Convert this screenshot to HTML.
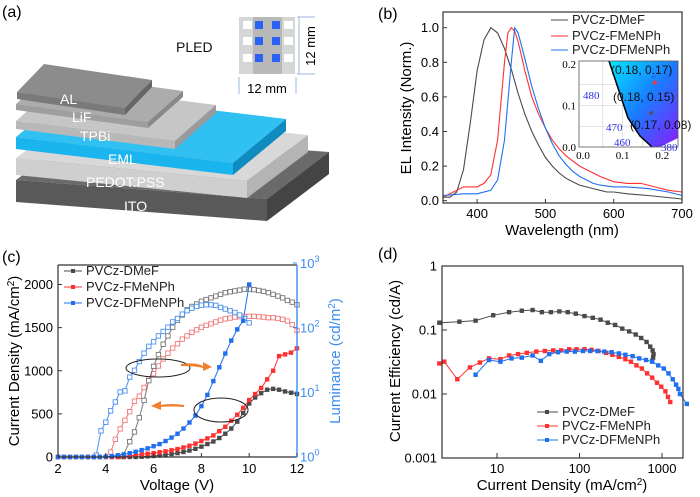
<!DOCTYPE html>
<html><head><meta charset="utf-8">
<style>
html,body{margin:0;padding:0;background:#fff;}
svg{display:block;font-family:"Liberation Sans",sans-serif;}
</style></head>
<body>
<svg id="fig" width="700" height="497" viewBox="0 0 700 497">
<defs>
<linearGradient id="cie" x1="0" y1="0" x2="1" y2="1">
<stop offset="0" stop-color="#00e8ff"/><stop offset="0.5" stop-color="#1a7bff"/><stop offset="1" stop-color="#8a1cff"/>
</linearGradient>
</defs>
<text x="2" y="17" font-size="16">(a)</text>
<text x="378" y="19" font-size="16">(b)</text>
<text x="2" y="262" font-size="16">(c)</text>
<text x="378" y="259" font-size="16">(d)</text>
<g id="pa"></g>
<g id="pb"></g>
<g id="pc"></g>
<g id="pd"></g>
</svg>
<script>
// ---------- Data: panel b (EL spectra) ----------
const wlDMeF=[350,360,370,380,390,400,410,420,430,440,450,460,470,480,490,500,510,520,530,540,550,560,570,580,590,600,620,650,700];
const elDMeF=[0.02,0.02,0.05,0.18,0.45,0.75,0.93,1.0,0.97,0.88,0.76,0.62,0.5,0.4,0.32,0.25,0.2,0.16,0.13,0.11,0.09,0.08,0.07,0.06,0.05,0.05,0.04,0.03,0.01];
const wlFMeNPh=[350,360,380,400,410,420,430,440,445,450,455,460,470,480,490,500,510,520,530,540,550,560,570,580,600,620,640,660,680,700];
const elFMeNPh=[0.02,0.04,0.08,0.08,0.1,0.15,0.35,0.8,0.97,1.0,0.98,0.92,0.75,0.6,0.5,0.42,0.35,0.3,0.26,0.23,0.2,0.18,0.16,0.14,0.11,0.1,0.1,0.08,0.06,0.05];
const wlDFMeNPh=[350,380,400,420,430,440,450,455,460,470,480,490,500,510,520,530,540,550,560,570,580,600,620,650,680,700];
const elDFMeNPh=[0.03,0.04,0.04,0.06,0.12,0.35,0.8,1.0,0.97,0.82,0.66,0.53,0.42,0.33,0.26,0.21,0.17,0.14,0.12,0.1,0.09,0.08,0.08,0.07,0.05,0.03];
const cieX=[0.178,0.182,0.172];
const cieY=[0.17,0.155,0.082];
const bXTicks=[400,500,600,700];
const bYTicks=[0,0.2,0.4,0.6,0.8,1.0];
// ---------- Data: panel c (J-V-L) ----------
const vJ=[2,2.25,2.5,2.75,3,3.25,3.5,3.75,4,4.25,4.5,4.75,5,5.25,5.5,5.75,6,6.25,6.5,6.75,7,7.25,7.5,7.75,8,8.25,8.5,8.75,9,9.25,9.5,9.75,10,10.25,10.5,10.75,11,11.25,11.5,11.75,12];
const jDMeF=[0,0,0,0,0,0,0,0,0,0,0,0,0,0,3,8,12,18,25,35,45,58,75,95,120,150,180,220,270,330,410,510,620,690,740,780,790,780,760,745,730];
const jFMeNPh=[0,0,0,0,0,0,0,0,0,0,0,8,15,22,30,38,45,55,65,78,92,110,130,155,185,215,250,300,350,420,490,570,660,730,800,900,1000,1170,1190,1210,1260];
const jDFMeNPh=[0,0,0,0,0,0,0,0,5,10,20,30,45,60,80,100,125,150,185,225,270,330,400,480,590,720,880,1040,1200,1350,1480,1580,2000];
const vL_DMeF=[4.7,5,5.2,5.4,5.6,5.8,6,6.2,6.4,6.6,6.8,7,7.2,7.4,7.6,7.8,8,8.2,8.4,8.6,8.8,9,9.2,9.4,9.6,9.8,10,10.2,10.4,10.6,10.8,11,11.2,11.4,11.6,11.8,12];
const lDMeF=[1.0,1.7,2.4,4.0,7.4,15,25,38,55,74,101,129,156,188,212,232,255,271,288,307,326,347,358,369,380,393,393,386,375,363,347,326,307,288,263,247,225];
const vL_FMeNPh=[4.2,4.4,4.6,4.8,5,5.2,5.4,5.6,5.8,6,6.2,6.4,6.6,6.8,7,7.2,7.4,7.6,7.8,8,8.2,8.4,8.6,8.8,9,9.2,9.4,9.6,9.8,10,10.2,10.4,10.6,10.8,11,11.2,11.4,11.6,11.8,12];
const lFMeNPh=[1.17,1.85,2.68,3.64,4.95,7.2,8.6,11.7,15.9,19.2,25.3,32.5,40,48,56,66,74,84,92,101,108,114,122,130,136,140,145,147,149,149,149,147,145,142,142,138,134,126,111,90];
const vL_DFMeNPh=[3.6,3.8,4,4.2,4.4,4.6,4.8,5,5.2,5.4,5.6,5.8,6,6.2,6.4,6.6,6.8,7,7.2,7.4,7.6,7.8,8,8.2,8.4,8.6,8.8,9,9.2,9.4,9.6,9.8,10];
const lDFMeNPh=[1.05,2.5,3.4,5.1,7.0,10,10.4,17,21.7,29.6,40,51,60,74,87,101,122,138,161,182,199,212,222,225,225,220,205,193,182,171,156,138,118];
const cXTicks=[2,4,6,8,10,12];
const cYTicks=[0,500,1000,1500,2000];
const cLTicks=[0,1,2,3];
// ---------- Data: panel d (efficiency) ----------
const dJ_DMeF=[2,3.5,5.5,9,14,20,27,35,45,57,72,90,115,145,180,220,270,330,400,480,560,650,720,770,790,780,760];
const ceDMeF=[0.13,0.135,0.14,0.17,0.19,0.2,0.205,0.19,0.19,0.195,0.19,0.18,0.165,0.155,0.145,0.13,0.12,0.105,0.095,0.085,0.075,0.065,0.055,0.048,0.042,0.037,0.033];
const dJ_FMeNPh=[2,2.3,3.3,4.7,6.2,8,11,14,18,23,30,38,48,60,75,92,115,140,170,210,250,300,360,420,490,570,660,760,870,980,1100,1180,1260];
const ceFMeNPh=[0.03,0.032,0.017,0.026,0.031,0.036,0.035,0.04,0.042,0.044,0.046,0.047,0.048,0.048,0.05,0.05,0.05,0.049,0.047,0.044,0.041,0.038,0.035,0.032,0.028,0.025,0.021,0.018,0.015,0.013,0.011,0.009,0.0075];
const dJ_DFMeNPh=[5.5,8,11,15,20,27,34,43,55,70,88,110,135,165,200,245,300,360,440,530,640,760,900,1050,1200,1350,1480,1580,1650,2000];
const ceDFMeNPh=[0.02,0.034,0.032,0.036,0.037,0.04,0.033,0.042,0.045,0.046,0.046,0.047,0.047,0.047,0.046,0.045,0.043,0.041,0.039,0.036,0.034,0.032,0.028,0.025,0.021,0.017,0.014,0.012,0.01,0.007];
const dXTicks=[10,100,1000];
const dYTicks=[1,0.1,0.01,0.001];

const NS='http://www.w3.org/2000/svg';
function mk(tag,attrs,parent,txt){const e=document.createElementNS(NS,tag);for(const k in attrs)e.setAttribute(k,attrs[k]);parent.appendChild(e);if(txt!==undefined)e.textContent=txt;return e;}
const GREY='#4a4a4a',RED='#ff3030',BLUE='#1f6fee';

// ================= Panel a =================
const pa=document.getElementById('pa');
const slabs=[
 {n:'ito-layer',fl:[16,180],fr:[267,199],o:[62,-47],h:22,top:'#6a6a6a',front:'#595959',side:'#444'},
 {n:'pedot-layer',fl:[16,158],fr:[247,181],o:[61,-46],h:17,top:'#d8d8d8',front:'#cfcfcf',side:'#b4b4b4'},
 {n:'eml-layer',fl:[16,137],fr:[233,163],o:[53,-44],h:12,top:'#30c0f2',front:'#1ab4ee',side:'#0e8cc0'},
 {n:'tpbi-layer',fl:[16,121],fr:[175,141],o:[41,-36],h:8,top:'#c6c6c6',front:'#b8b8b8',side:'#9a9a9a'},
 {n:'lif-layer',fl:[16,104],fr:[148,122],o:[35,-31],h:6,top:'#acacac',front:'#9e9e9e',side:'#888'},
 {n:'al-layer',fl:[17,92],fr:[125,108],o:[27,-28],h:7,top:'#8c8c8c',front:'#7a7a7a',side:'#666'}];
slabs.forEach(s=>{
 const [a,b]=s.fl,[c,d]=s.fr,[ox,oy]=s.o,h=s.h;
 const g=mk('g',{},pa);
 
 
 mk('polygon',{points:`${a},${b} ${c},${d} ${c+ox},${d+oy} ${a+ox},${b+oy}`,fill:s.top},g);
 mk('polygon',{points:`${a},${b} ${c},${d} ${c},${d+h} ${a},${b+h}`,fill:s.front},g);
 mk('polygon',{points:`${c},${d} ${c+ox},${d+oy} ${c+ox},${d+oy+h} ${c},${d+h}`,fill:s.side},g);
});
const layerLabels=[['AL',60,104],['LiF',72,122],['TPBi',80,141],['EML',108,164],['PEDOT:PSS',86,187],['ITO',124,211]];
layerLabels.forEach(l=>{
 const t=mk('text',{x:l[1],y:l[2],fill:'#fff','font-size':14},pa,l[0]);
 
 
});
const pled=mk('text',{x:176,y:52,'font-size':14,fill:'#111'},pa,'PLED');


const chip=mk('g',{},pa);


mk('rect',{x:239,y:17,width:56,height:57,fill:'#d6d6d6'},chip);
mk('rect',{x:253,y:17,width:29,height:57,fill:'#b8b8b8'},chip);
[25,41,58].forEach(y=>{
 mk('rect',{x:243,y:y-4,width:9,height:8,fill:'#fff'},chip);
 mk('rect',{x:284,y:y-4,width:9,height:8,fill:'#fff'},chip);
 mk('rect',{x:255,y:y-4,width:8,height:8,fill:'#2a62f5'},chip);
 mk('rect',{x:272,y:y-4,width:8,height:8,fill:'#2a62f5'},chip);
});
mk('line',{x1:299,y1:17,x2:299,y2:74,stroke:'#9cb6e0'},chip);
mk('line',{x1:297,y1:17,x2:315,y2:17,stroke:'#9cb6e0'},chip);
mk('line',{x1:297,y1:74,x2:315,y2:74,stroke:'#9cb6e0'},chip);
mk('line',{x1:239,y1:77,x2:239,y2:94,stroke:'#9cb6e0'},chip);
mk('line',{x1:296,y1:77,x2:296,y2:94,stroke:'#9cb6e0'},chip);
const d1=mk('text',{x:0,y:0,'font-size':13,transform:'translate(315,46) rotate(-90)','text-anchor':'middle'},pa,'12 mm');


const d2=mk('text',{x:267,y:93,'font-size':13,'text-anchor':'middle'},pa,'12 mm');



// ============== generic helpers ==============
function linePath(xs,ys,fx,fy){return xs.map((x,i)=>(i?'L':'M')+fx(x).toFixed(1)+','+fy(ys[i]).toFixed(1)).join('');}

// ================= Panel b =================
const pb=document.getElementById('pb');
const bL=443,bR=682,bT=12,bB=203;
const xB=w=>bL+(w-350)*(bR-bL)/350;
const yB=v=>200.7-v*173;
[[wlDMeF,elDMeF,GREY,'dmef-spectrum'],[wlFMeNPh,elFMeNPh,RED,'fmenph-spectrum'],[wlDFMeNPh,elDFMeNPh,BLUE,'dfmenph-spectrum']].forEach(s=>{
 const p=mk('path',{d:linePath(s[0],s[1],xB,yB),fill:'none',stroke:s[2],'stroke-width':1.1},pb);
 
 
});
const bf=mk('rect',{x:bL,y:bT,width:bR-bL,height:bB-bT,fill:'none',stroke:'#333','stroke-width':1.2},pb);


bXTicks.forEach(t=>{
 mk('line',{x1:xB(t),y1:bB,x2:xB(t),y2:bB-4,stroke:'#333'},pb);
 const l=mk('text',{x:xB(t),y:bB+15,'font-size':13,'text-anchor':'middle'},pb,t);
 
 
});
bYTicks.forEach(t=>{
 mk('line',{x1:bL,y1:yB(t),x2:bL+4,y2:yB(t),stroke:'#333'},pb);
 const l=mk('text',{x:bL-4,y:yB(t)+4.5,'font-size':13,'text-anchor':'end'},pb,t.toFixed(1));
 
 
});
const bxt=mk('text',{x:562,y:235,'font-size':15,'text-anchor':'middle'},pb,'Wavelength (nm)');


const byt=mk('text',{x:0,y:0,'font-size':15,'text-anchor':'middle',transform:'translate(411,108) rotate(-90)'},pb,'EL Intensity (Norm.)');


[['PVCz-DMeF',GREY,24],['PVCz-FMeNPh',RED,40],['PVCz-DFMeNPh',BLUE,54]].forEach(l=>{
 const g=mk('g',{},pb);
 
 
 mk('line',{x1:551,y1:l[2]-4,x2:568,y2:l[2]-4,stroke:l[1]},g);
 mk('text',{x:572,y:l[2],'font-size':13,fill:'#222'},g,l[0]);
});
// CIE inset
const xI=v=>583+v*396, yI=v=>147-v*415;
const ins=mk('g',{'font-family':'"Liberation Serif",serif'},pb);


mk('rect',{x:579,y:61,width:99,height:86,fill:'#fff'},ins);
[0.05,0.1,0.15].forEach(v=>mk('line',{x1:579,y1:yI(v),x2:678,y2:yI(v),stroke:'#ccc','stroke-width':0.6},ins));
[0.05,0.1,0.15,0.2].forEach(v=>mk('line',{x1:xI(v),y1:61,x2:xI(v),y2:147,stroke:'#ccc','stroke-width':0.6},ins));
const cieReg=mk('polygon',{points:'609,61 678,61 678,138 660,147 652,147 640,136 628,118 618,88',fill:'url(#cie)'},ins);


mk('polyline',{points:'609,61 618,88 628,118 640,136 652,147',fill:'none',stroke:'#000','stroke-width':1.5},ins);
mk('rect',{x:579,y:61,width:99,height:86,fill:'none',stroke:'#555','stroke-width':0.8},ins);
[[0,'0.0'],[0.1,'0.1'],[0.2,'0.2']].forEach(t=>{
 const l=mk('text',{x:xI(t[0]),y:159,'font-size':11,'text-anchor':'middle'},ins,t[1]);
 
 
 const m=mk('text',{x:576,y:yI(t[0])+4,'font-size':11,'text-anchor':'end'},ins,t[1]);
 
 
});
[['480',583,99],['470',606,131],['460',614,146],['380',661,151]].forEach(t=>{
 const l=mk('text',{x:t[1],y:t[2],'font-size':11,fill:'#3030e0'},ins,t[0]);
 
 
});
[['(0.18, 0.17)',611,74],['(0.18, 0.15)',613,101],['(0.17, 0.08)',630,129]].forEach(t=>{
 const l=mk('text',{x:t[1],y:t[2],'font-size':12,fill:'#111','font-family':'"Liberation Sans",sans-serif'},ins,t[0]);
 
 
});
[BLUE,RED,'#555'].forEach((c,i)=>{
 const d=mk('circle',{cx:xI(cieX[i]),cy:yI(cieY[i]),r:2,fill:c},ins);
 
 
});

// ================= Panel c =================
const pc=document.getElementById('pc');
const cL=58,cR=297,cT=265,cB=457;
const xC=v=>cL+(v-2)*(cR-cL)/10;
const yC=j=>457-j*0.08625;
const yLum=L=>456.5-Math.log10(L)*64.5;
function series(g,xs,ys,fx,fy,col,open,name){
 const p=mk('path',{d:linePath(xs,ys,fx,fy),fill:'none',stroke:col,'stroke-width':1},g);
 
 
 xs.forEach((x,i)=>{
  const r=mk('rect',{x:fx(x)-2.2,y:fy(ys[i])-2.2,width:4.4,height:4.4,fill:open?'#fff':col,stroke:col,'stroke-width':open?0.9:0},g);
  
  
 });
}
series(pc,vL_FMeNPh,lFMeNPh,xC,yLum,'#f07a7a',true,'fmenph-luminance');
series(pc,vL_DMeF,lDMeF,xC,yLum,'#777',true,'dmef-luminance');
series(pc,vL_DFMeNPh,lDFMeNPh,xC,yLum,'#4a90f0',true,'dfmenph-luminance');
series(pc,vJ,jDMeF,xC,yC,GREY,false,'dmef-current');
series(pc,vJ,jFMeNPh,xC,yC,RED,false,'fmenph-current');
series(pc,vJ.slice(0,jDFMeNPh.length),jDFMeNPh,xC,yC,BLUE,false,'dfmenph-current');
mk('line',{x1:cL,y1:cT,x2:cR,y2:cT,stroke:'#333','stroke-width':1.2},pc);
mk('line',{x1:cL,y1:cT,x2:cL,y2:cB,stroke:'#333','stroke-width':1.2},pc);
mk('line',{x1:cL,y1:cB,x2:cR,y2:cB,stroke:'#333','stroke-width':1.2},pc);
const ra=mk('line',{x1:cR,y1:cT,x2:cR,y2:cB,stroke:'#3c8cf0','stroke-width':1.4},pc);


cXTicks.forEach(t=>{
 mk('line',{x1:xC(t),y1:cB,x2:xC(t),y2:cB-4,stroke:'#333'},pc);
 const l=mk('text',{x:xC(t),y:cB+16,'font-size':13,'text-anchor':'middle'},pc,t);
 
 
});
cYTicks.forEach(t=>{
 mk('line',{x1:cL,y1:yC(t),x2:cL+4,y2:yC(t),stroke:'#333'},pc);
 const l=mk('text',{x:cL-5,y:yC(t)+4.5,'font-size':13,'text-anchor':'end'},pc,t);
 
 
});
cLTicks.forEach(t=>{
 const y=yLum(Math.pow(10,t));
 mk('line',{x1:cR,y1:y,x2:cR-4,y2:y,stroke:'#3c8cf0'},pc);
 const l=mk('text',{x:cR+3,y:y+5,'font-size':13,fill:'#3c8cf0'},pc);
 
 
 mk('tspan',{},l,'10');
 mk('tspan',{dy:-6,'font-size':9},l,String(t));
});
const cxt=mk('text',{x:177,y:490,'font-size':15,'text-anchor':'middle'},pc,'Voltage (V)');


const cyt=mk('text',{x:0,y:0,'font-size':15,'text-anchor':'middle',transform:'translate(19,361) rotate(-90)'},pc);


mk('tspan',{},cyt,'Current Density (mA/cm');mk('tspan',{dy:-5,'font-size':10},cyt,'2');mk('tspan',{dy:5},cyt,')');
const cyr=mk('text',{x:0,y:0,'font-size':15,'text-anchor':'middle',fill:'#3c8cf0',transform:'translate(340,361) rotate(-90)'},pc);


mk('tspan',{},cyr,'Luminance (cd/m');mk('tspan',{dy:-5,'font-size':10},cyr,'2');mk('tspan',{dy:5},cyr,')');
[['PVCz-DMeF',GREY,275],['PVCz-FMeNPh',RED,291],['PVCz-DFMeNPh',BLUE,307]].forEach(l=>{
 const g=mk('g',{},pc);
 
 
 mk('line',{x1:64,y1:l[2]-4,x2:82,y2:l[2]-4,stroke:l[1]},g);
 mk('rect',{x:71,y:l[2]-6,width:4,height:4,fill:l[1]},g);
 mk('text',{x:86,y:l[2],'font-size':13,fill:'#222'},g,l[0]);
});
const e1=mk('ellipse',{cx:158,cy:368,rx:32,ry:9,fill:'none',stroke:'#222','stroke-width':1},pc);


const e2=mk('ellipse',{cx:221,cy:410,rx:27,ry:12,fill:'none',stroke:'#222','stroke-width':1},pc);


const a1=mk('path',{d:'M181,364 Q196,362 203,366 L203,362 L212,367 L203,371 L203,368 Q196,366 181,366Z',fill:'#f08030'},pc);


const a2=mk('path',{d:'M184,405 Q170,403 161,405 L161,401 L151,406 L161,410 L161,407 Q170,406 184,407Z',fill:'#f08030'},pc);



// ================= Panel d =================
const pd=document.getElementById('pd');
const dL=442,dR=683,dT=266,dB=458;
const xD=j=>497+(Math.log10(j)-1)*82.5;
const yD=e=>394-(Math.log10(e)+2)*64;
series(pd,dJ_DMeF,ceDMeF,xD,yD,GREY,false,'dmef-efficiency');
series(pd,dJ_FMeNPh,ceFMeNPh,xD,yD,RED,false,'fmenph-efficiency');
series(pd,dJ_DFMeNPh,ceDFMeNPh,xD,yD,BLUE,false,'dfmenph-efficiency');
const df=mk('rect',{x:dL,y:dT,width:dR-dL,height:dB-dT,fill:'none',stroke:'#333','stroke-width':1.2},pd);


dXTicks.forEach(t=>{
 mk('line',{x1:xD(t),y1:dB,x2:xD(t),y2:dB-5,stroke:'#333'},pd);
 const l=mk('text',{x:xD(t),y:dB+15,'font-size':13,'text-anchor':'middle'},pd,t);
 
 
});
dYTicks.forEach(t=>{
 mk('line',{x1:dL,y1:yD(t),x2:dL+5,y2:yD(t),stroke:'#333'},pd);
 const l=mk('text',{x:dL-5,y:yD(t)+4.5,'font-size':13,'text-anchor':'end'},pd,t);
 
 
});
const dxt=mk('text',{x:562,y:490,'font-size':15,'text-anchor':'middle'},pd);


mk('tspan',{},dxt,'Current Density (mA/cm');mk('tspan',{dy:-5,'font-size':10},dxt,'2');mk('tspan',{dy:5},dxt,')');
const dyt=mk('text',{x:0,y:0,'font-size':15,'text-anchor':'middle',transform:'translate(400,361) rotate(-90)'},pd,'Current Efficiency (cd/A)');


[['PVCz-DMeF',GREY,416],['PVCz-FMeNPh',RED,430],['PVCz-DFMeNPh',BLUE,444]].forEach(l=>{
 const g=mk('g',{},pd);
 
 
 mk('line',{x1:537,y1:l[2]-4,x2:558,y2:l[2]-4,stroke:l[1]},g);
 mk('rect',{x:545,y:l[2]-6,width:4,height:4,fill:l[1]},g);
 mk('text',{x:562,y:l[2],'font-size':13,fill:'#222'},g,l[0]);
});
</script>
</body></html>
